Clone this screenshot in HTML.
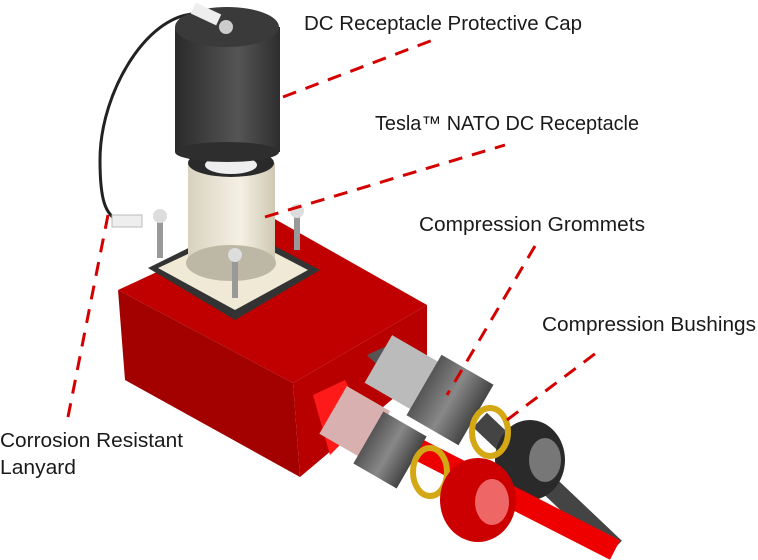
<!DOCTYPE html>
<html><head><style>
html,body{margin:0;padding:0;background:#fff;}
svg{display:block;}
text{font-family:"Liberation Sans",sans-serif;font-size:20px;fill:#1a1a1a;}
</style></head><body>
<svg width="758" height="560" viewBox="0 0 758 560">
<defs>
<linearGradient id="cap" x1="0" x2="1"><stop offset="0" stop-color="#2a2a2a"/><stop offset="0.6" stop-color="#555"/><stop offset="1" stop-color="#2e2e2e"/></linearGradient>
<linearGradient id="cream" x1="0" x2="1"><stop offset="0" stop-color="#d8d2bf"/><stop offset="0.6" stop-color="#f4f0e4"/><stop offset="1" stop-color="#cfc8b2"/></linearGradient>
<linearGradient id="grey" x1="0" x2="1"><stop offset="0" stop-color="#555"/><stop offset="0.5" stop-color="#888"/><stop offset="1" stop-color="#444"/></linearGradient>
</defs>
<path d="M200,14 C150,10 100,90 100,160 C100,200 105,215 120,222" fill="none" stroke="#222" stroke-width="3"/>
<polygon points="118,290 273,218 427,305 293,383" fill="#c00000"/>
<polygon points="118,290 293,383 300,477 125,380" fill="#a30000"/>
<polygon points="293,383 427,305 427,370 300,477" fill="#b80000"/>
<polygon points="148,268 235,225 320,270 235,320" fill="#333"/>
<polygon points="158,268 235,232 308,270 235,310" fill="#efe9d6"/>
<rect x="188" y="163" width="87" height="100" fill="url(#cream)"/>
<ellipse cx="231" cy="263" rx="45" ry="18" fill="#bdb7a5"/>
<ellipse cx="231" cy="163" rx="43" ry="14" fill="#2a2a2a"/>
<ellipse cx="231" cy="165" rx="26" ry="9" fill="#eee"/>
<rect x="157" y="218" width="6" height="40" fill="#999"/><circle cx="160" cy="216" r="7" fill="#ddd"/>
<rect x="294" y="214" width="6" height="36" fill="#999"/><circle cx="297" cy="211" r="7" fill="#ddd"/>
<rect x="232" y="258" width="6" height="40" fill="#999"/><circle cx="235" cy="255" r="7" fill="#ddd"/>
<rect x="112" y="215" width="30" height="12" fill="#eee" stroke="#bbb"/>
<rect x="175" y="27" width="105" height="125" fill="url(#cap)"/>
<ellipse cx="227" cy="152" rx="52" ry="10" fill="#2e2e2e"/>
<ellipse cx="227" cy="27" rx="52" ry="20" fill="#3a3a3a"/>
<circle cx="226" cy="27" r="7" fill="#ccc"/>
<rect x="192" y="8" width="28" height="12" fill="#eee" transform="rotate(25 206 14)"/>
<line x1="480" y1="420" x2="615" y2="548" stroke="#444" stroke-width="20"/>
<polygon points="367,355 400,340 425,360 390,378" fill="#555"/>
<rect x="375" y="345" width="55" height="55" fill="#bbb" transform="rotate(30 402 372)"/>
<rect x="420" y="365" width="60" height="70" fill="url(#grey)" transform="rotate(30 450 400)"/>
<ellipse cx="530" cy="460" rx="35" ry="40" fill="#2a2a2a"/>
<ellipse cx="545" cy="460" rx="16" ry="22" fill="#777"/>
<ellipse cx="490" cy="432" rx="18" ry="24" fill="none" stroke="#d4a814" stroke-width="6"/>
<line x1="380" y1="430" x2="615" y2="550" stroke="#e00" stroke-width="22"/>
<polygon points="313,395 345,380 365,420 330,455" fill="#ff1a1a"/>
<rect x="330" y="395" width="50" height="55" fill="#d8b0b0" transform="rotate(30 355 422)"/>
<rect x="365" y="420" width="50" height="60" fill="url(#grey)" transform="rotate(30 390 450)"/>
<ellipse cx="430" cy="472" rx="17" ry="24" fill="none" stroke="#d4a814" stroke-width="6"/>
<ellipse cx="478" cy="500" rx="38" ry="42" fill="#c00"/>
<ellipse cx="492" cy="502" rx="17" ry="23" fill="#e66"/>
<g stroke="#d40000" stroke-width="3" stroke-dasharray="14,10" fill="none">
<line x1="283" y1="97" x2="433" y2="40"/>
<line x1="265" y1="217" x2="505" y2="145"/>
<line x1="535" y1="246" x2="447" y2="395"/>
<line x1="507" y1="420" x2="600" y2="350"/>
<line x1="108" y1="215" x2="67" y2="422"/>
</g>
<text x="304" y="30" textLength="278" lengthAdjust="spacingAndGlyphs">DC Receptacle Protective Cap</text>
<text x="375" y="130" textLength="264" lengthAdjust="spacingAndGlyphs">Tesla™ NATO DC Receptacle</text>
<text x="419" y="231" textLength="226" lengthAdjust="spacingAndGlyphs">Compression Grommets</text>
<text x="542" y="331" textLength="214" lengthAdjust="spacingAndGlyphs">Compression Bushings</text>
<text x="0" y="447" textLength="183" lengthAdjust="spacingAndGlyphs">Corrosion Resistant</text>
<text x="0" y="474" textLength="76" lengthAdjust="spacingAndGlyphs">Lanyard</text>
</svg>
</body></html>
